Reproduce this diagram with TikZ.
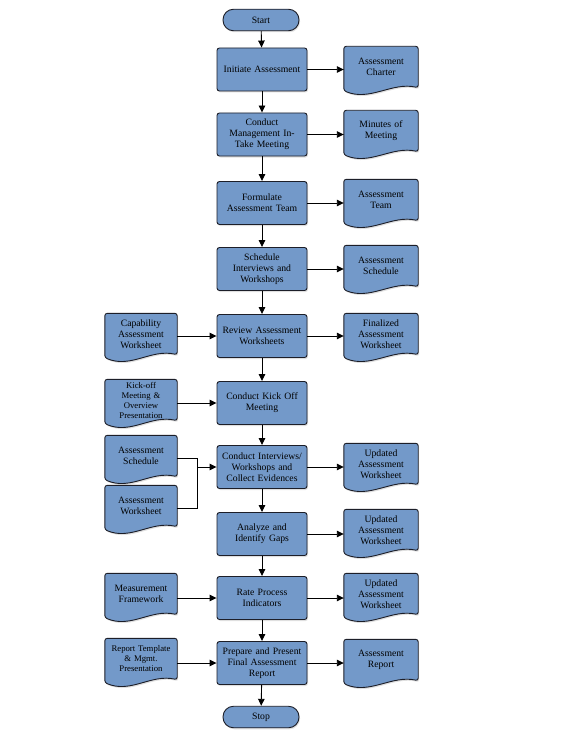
\documentclass[tikz,border=0pt]{standalone}
\usepackage{fontspec}
\setmainfont{Liberation Serif}
\usetikzlibrary{arrows.meta,shadows,calc}
\definecolor{boxblue}{RGB}{115,153,201}
\definecolor{edgecol}{RGB}{28,30,40}
\pgfdeclarelayer{back}
\pgfdeclarelayer{bg}
\pgfsetlayers{back,bg,main}
\newcommand\mainfs{\fontsize{9.7}{11}\selectfont}
\newcommand\smallfs{\fontsize{8.7}{10}\selectfont}
\tikzset{
  shad/.style={drop shadow={opacity=0.25,shadow xshift=1pt,shadow yshift=-1.5pt}},
  proc/.style={draw=edgecol, line width=0.9pt, fill=boxblue, rounded corners=2.5pt,
    minimum width=90pt, minimum height=43pt, text width=86pt, align=center,
    inner sep=0pt, font=\mainfs, shad},
  term/.style={draw=edgecol, line width=0.9pt, fill=boxblue, rounded corners=10.5pt,
    minimum width=76pt, minimum height=21.5pt, inner sep=0pt, font=\mainfs, shad},
  docn/.style={minimum width=74pt, minimum height=41pt, inner sep=0pt,
    text width=72pt, align=center, font=\mainfs},
  docl/.style={docn, minimum width=72pt, text width=70pt},
  docline/.style={draw=edgecol, line width=0.9pt, fill=boxblue, rounded corners=2.5pt, shad},
  arr/.style={draw=black, line width=0.9pt, -{Triangle[length=7pt,width=6.5pt]}},
  ln/.style={draw=black, line width=0.9pt}
}
\newcommand\docdraw[1]{%
  \begin{pgfonlayer}{bg}
  \draw[docline] ($(#1.south west)+(0,3)$) -- (#1.north west) -- (#1.north east) -- (#1.south east)
    .. controls ($(#1.south east)+(-26,-6)$) and ($(#1.south west)+(26,14)$) .. cycle;
  \end{pgfonlayer}}
\begin{document}
\begin{tikzpicture}[x=1pt,y=-1pt]
\begin{pgfonlayer}{back}
\fill[white] (0,0) rectangle (575,733);
\end{pgfonlayer}
\useasboundingbox (0,0) rectangle (575,733);
% main column
\node[term] (start) at (261,20) {Start};
\node[proc] (n1) at (262,69.5) {Initiate Assessment};
\node[proc] (n2) at (262,134.5) {Conduct\\Management In-\\Take Meeting};
\node[proc] (n3) at (262,203) {Formulate\\Assessment Team};
\node[proc] (n4) at (262,269) {Schedule\\Interviews and\\Workshops};
\node[proc] (n5) at (262,336) {Review Assessment\\Worksheets};
\node[proc] (n6) at (262,403) {Conduct Kick Off\\Meeting};
\node[proc] (n7) at (262,467) {Conduct Interviews/\\Workshops and\\Collect Evidences};
\node[proc] (n8) at (262,534) {Analyze and\\Identify Gaps};
\node[proc] (n9) at (262,598) {Rate Process\\Indicators};
\node[proc] (n10) at (262,663) {Prepare and Present\\Final Assessment\\Report};
\node[term] (stop) at (261,717) {Stop};
% right documents
\node[docn] (r1) at (381,67) {Assessment\\Charter}; \docdraw{r1}
\node[docn] (r2) at (381,131) {Minutes of\\Meeting}; \docdraw{r2}
\node[docn] (r3) at (381,200) {Assessment\\Team}; \docdraw{r3}
\node[docn] (r4) at (381,266) {Assessment\\Schedule}; \docdraw{r4}
\node[docn] (r5) at (381,334) {Finalized\\Assessment\\Worksheet}; \docdraw{r5}
\node[docn] (r6) at (381,464) {Updated\\Assessment\\Worksheet}; \docdraw{r6}
\node[docn] (r7) at (381,530) {Updated\\Assessment\\Worksheet}; \docdraw{r7}
\node[docn] (r8) at (381,594) {Updated\\Assessment\\Worksheet}; \docdraw{r8}
\node[docn] (r9) at (381,660) {Assessment\\Report}; \docdraw{r9}
% left documents
\node[docl] (l5) at (141,334) {Capability\\Assessment\\Worksheet}; \docdraw{l5}
\node[docl, font=\smallfs] (l6) at (141,400) {Kick-off\\Meeting \&\\Overview\\Presentation}; \docdraw{l6}
\node[docl] (l7a) at (141,456) {Assessment\\Schedule}; \docdraw{l7a}
\node[docl] (l7b) at (141,506) {Assessment\\Worksheet}; \docdraw{l7b}
\node[docl] (l9) at (141,594) {Measurement\\Framework}; \docdraw{l9}
\node[docl, font=\smallfs] (l10) at (141,659) {Report Template\\\& Mgmt.\\Presentation}; \docdraw{l10}
% vertical flow
\draw[arr] (start) -- (n1);
\draw[arr] (n1) -- (n2);
\draw[arr] (n2) -- (n3);
\draw[arr] (n3) -- (n4);
\draw[arr] (n4) -- (n5);
\draw[arr] (n5) -- (n6);
\draw[arr] (n6) -- (n7);
\draw[arr] (n7) -- (n8);
\draw[arr] (n8) -- (n9);
\draw[arr] (n9) -- (n10);
\draw[arr] (n10) -- (stop);
% outputs
\draw[arr] (n1.east) -- (n1.east -| r1.west);
\draw[arr] (n2.east) -- (n2.east -| r2.west);
\draw[arr] (n3.east) -- (n3.east -| r3.west);
\draw[arr] (n4.east) -- (n4.east -| r4.west);
\draw[arr] (n5.east) -- (n5.east -| r5.west);
\draw[arr] (n7.east) -- (n7.east -| r6.west);
\draw[arr] (n8.east) -- (n8.east -| r7.west);
\draw[arr] (n9.east) -- (n9.east -| r8.west);
\draw[arr] (n10.east) -- (n10.east -| r9.west);
% inputs
\draw[arr] (n5.west -| l5.east) -- (n5.west);
\draw[arr] (n6.west -| l6.east) -- (n6.west);
\draw[arr] (n9.west -| l9.east) -- (n9.west);
\draw[arr] (n10.west -| l10.east) -- (n10.west);
\coordinate (j) at (197,467);
\coordinate (a1) at ($(l7a.east)+(0,2)$);
\coordinate (a2) at ($(l7b.east)+(0,2)$);
\draw[ln] (a1) -- (a1 -| j) -- (a2 -| j) -- (a2);
\draw[arr] (j) -- (j -| n7.west);
\end{tikzpicture}
\end{document}
